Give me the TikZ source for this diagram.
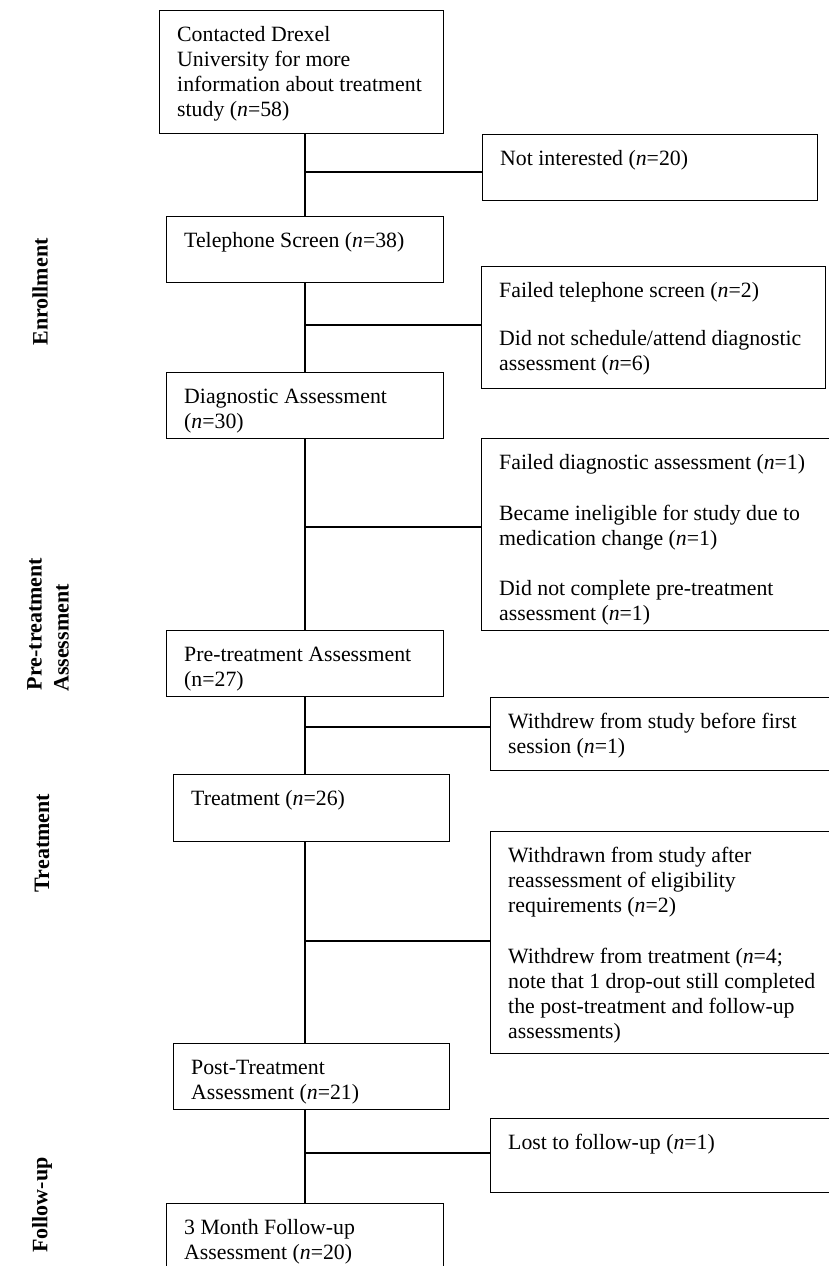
\documentclass[tikz,border=0pt]{standalone}
\usepackage{fontspec}
\setmainfont{Liberation Serif}
\begin{document}
\begin{tikzpicture}[x=1pt,y=-1pt,
  box/.style={draw=black, line width=1.1pt, rectangle, anchor=north west, inner sep=0pt},
  txt/.style={anchor=north west, inner sep=0pt, align=left, font=\fontsize{21.8}{25}\selectfont},
  lbl/.style={rotate=90, font=\fontsize{22}{27}\selectfont\bfseries, align=center, inner sep=0pt},
  link/.style={line width=1.1pt}]
\useasboundingbox (0,0) rectangle (828,1266);

% main column boxes
\node[box, minimum width=284pt, minimum height=123pt] (b1) at (159,10) {};
\node[box, minimum width=277pt, minimum height=66pt] (b2) at (166,216) {};
\node[box, minimum width=277pt, minimum height=66pt] (b3) at (166,372) {};
\node[box, minimum width=277pt, minimum height=66pt] (b4) at (166,630) {};
\node[box, minimum width=276pt, minimum height=67pt] (b5) at (173,774) {};
\node[box, minimum width=276pt, minimum height=66pt] (b6) at (173,1043) {};
\node[box, minimum width=277pt, minimum height=90pt] (b7) at (166,1203) {};

% side boxes
\node[box, minimum width=335pt, minimum height=66pt] (r1) at (482,134) {};
\node[box, minimum width=344pt, minimum height=122pt] (r2) at (481,266) {};
\node[box, minimum width=360pt, minimum height=192pt] (r3) at (481,438) {};
\node[box, minimum width=350pt, minimum height=73pt] (r4) at (490,697) {};
\node[box, minimum width=350pt, minimum height=222pt] (r5) at (490,831) {};
\node[box, minimum width=350pt, minimum height=74pt] (r6) at (490,1118) {};

% texts
\node[txt] (b1t) at ([xshift=18pt,yshift=-13.5pt]b1.north west) {\strut Contacted Drexel\\University for more\\information about treatment\\study (\textit{n}=58)};
\node[txt] (b2t) at ([xshift=18pt,yshift=-13.5pt]b2.north west) {\strut Telephone Screen (\textit{n}=38)};
\node[txt] (b3t) at ([xshift=18pt,yshift=-13.5pt]b3.north west) {\strut Diagnostic Assessment\\(\textit{n}=30)};
\node[txt] (b4t) at ([xshift=18pt,yshift=-13.5pt]b4.north west) {\strut Pre-treatment Assessment\\(n=27)};
\node[txt] (b5t) at ([xshift=18pt,yshift=-13.5pt]b5.north west) {\strut Treatment (\textit{n}=26)};
\node[txt] (b6t) at ([xshift=18pt,yshift=-13.5pt]b6.north west) {\strut Post-Treatment\\Assessment (\textit{n}=21)};
\node[txt] (b7t) at ([xshift=18pt,yshift=-13.5pt]b7.north west) {\strut 3 Month Follow-up\\Assessment (\textit{n}=20)};

\node[txt] (r1t) at ([xshift=18pt,yshift=-13.5pt]r1.north west) {\strut Not interested (\textit{n}=20)};
\node[txt] (r2t) at ([xshift=18pt,yshift=-13.5pt]r2.north west) {\strut Failed telephone screen (\textit{n}=2)\\[23pt]Did not schedule/attend diagnostic\\assessment (\textit{n}=6)};
\node[txt] (r3t) at ([xshift=18pt,yshift=-13.5pt]r3.north west) {\strut Failed diagnostic assessment (\textit{n}=1)\\[26pt]Became ineligible for study due to\\medication change (\textit{n}=1)\\[25pt]Did not complete pre-treatment\\assessment (\textit{n}=1)};
\node[txt] (r4t) at ([xshift=18pt,yshift=-13.5pt]r4.north west) {\strut Withdrew from study before first\\session (\textit{n}=1)};
\node[txt] (r5t) at ([xshift=18pt,yshift=-13.5pt]r5.north west) {\strut Withdrawn from study after\\reassessment of eligibility\\requirements (\textit{n}=2)\\[26pt]Withdrew from treatment (\textit{n}=4;\\note that 1 drop-out still completed\\the post-treatment and follow-up\\assessments)};
\node[txt] (r6t) at ([xshift=18pt,yshift=-13.5pt]r6.north west) {\strut Lost to follow-up (\textit{n}=1)};

% phase labels
\node[lbl] (l1) at (40,292) {Enrollment};
\node[lbl] (l2) at (48,624) {Pre-treatment\\\hspace*{-28pt}Assessment};
\node[lbl] (l3) at (42,843) {Treatment};
\node[lbl] (l4) at (42,1205) {Follow-up};

% spine
\coordinate (sp) at (305,0);
\draw[link] (b1.south -| sp) -- (b2.north -| sp);
\draw[link] (b2.south -| sp) -- (b3.north -| sp);
\draw[link] (b3.south -| sp) -- (b4.north -| sp);
\draw[link] (b4.south -| sp) -- (b5.north -| sp);
\draw[link] (b5.south -| sp) -- (b6.north -| sp);
\draw[link] (b6.south -| sp) -- (b7.north -| sp);

% branches
\coordinate (j1) at (305,172);
\coordinate (j2) at (305,325);
\coordinate (j3) at (305,527);
\coordinate (j4) at (305,727);
\coordinate (j5) at (305,941);
\coordinate (j6) at (305,1153);
\draw[link] (j1) -- (j1 -| r1.west);
\draw[link] (j2) -- (j2 -| r2.west);
\draw[link] (j3) -- (j3 -| r3.west);
\draw[link] (j4) -- (j4 -| r4.west);
\draw[link] (j5) -- (j5 -| r5.west);
\draw[link] (j6) -- (j6 -| r6.west);
\end{tikzpicture}
\end{document}
